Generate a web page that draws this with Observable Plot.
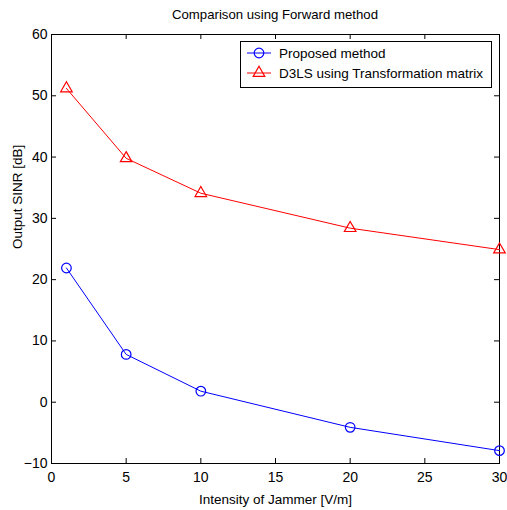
<!DOCTYPE html>
<html><head><meta charset="utf-8">
<script src="https://cdn.jsdelivr.net/npm/d3@7"></script>
<script src="https://cdn.jsdelivr.net/npm/@observablehq/plot@0.6"></script>
<style>
body{margin:0;background:#fff;}
#wrap{position:relative;width:507px;height:510px;font-family:"Liberation Sans",Arial,sans-serif;color:#000;}
#title{position:absolute;top:7px;left:51px;width:448px;text-align:center;font-size:13.2px;line-height:16px;}
#chart{position:absolute;top:27px;left:0;}
#legend{position:absolute;left:240px;top:41px;}
</style></head>
<body><div id="wrap"><div id="title"></div><div id="chart"></div><div id="legend"></div></div>
<script>
const titleText = "Comparison using Forward method";
const xLabel = "Intensity of Jammer [V/m]";
const yLabel = "Output SINR [dB]";
const seriesNames = ["Proposed method", "D3LS using Transformation matrix"];
const seriesColors = ["#0000ff", "#ff0000"];
const jammer = [1, 5, 10, 20, 30];
const proposed = [21.9, 7.8, 1.8, -4.1, -7.9];
const d3ls = [51.2, 39.8, 34.1, 28.4, 24.9];
const xTicks = [0, 5, 10, 15, 20, 25, 30];
const yTicks = [-10, 0, 10, 20, 30, 40, 50, 60];

document.getElementById("title").textContent = titleText;

const W = 507, H = 483, mT = 7, mB = 47, mL = 51, mR = 8;
const pw = W - mL - mR, ph = H - mT - mB, tk = 5;
const dProp = jammer.map((x, i) => ({x, y: proposed[i]}));
const dD3 = jammer.map((x, i) => ({x, y: d3ls[i]}));

const chart = Plot.plot({
  width: W, height: H, marginTop: mT, marginBottom: mB, marginLeft: mL, marginRight: mR,
  style: {fontFamily: "Liberation Sans, Arial, sans-serif", fontSize: "14px", color: "#000", background: "#fff", overflow: "visible"},
  x: {domain: [0, 30]},
  y: {domain: [-10, 60]},
  marks: [
    Plot.frame({stroke: "#000"}),
    Plot.tickX(xTicks, {x: d => d, insetTop: ph - tk, stroke: "#000"}),
    Plot.tickX(xTicks, {x: d => d, insetBottom: ph - tk, stroke: "#000"}),
    Plot.tickY(yTicks, {y: d => d, insetRight: pw - tk, stroke: "#000"}),
    Plot.tickY(yTicks, {y: d => d, insetLeft: pw - tk, stroke: "#000"}),
    Plot.axisX({ticks: xTicks, tickSize: 0, tickPadding: 9, tickFormat: d3.format("d"), fontSize: 14, label: null}),
    Plot.axisY({ticks: yTicks, tickSize: 0, tickPadding: 4, tickFormat: d3.format("d"), fontSize: 14, label: null}),
    Plot.text([xLabel], {text: d => d, frameAnchor: "bottom", dy: 36, fontSize: 13.5, lineAnchor: "middle"}),
    Plot.text([yLabel], {text: d => d, frameAnchor: "left", dx: -34, rotate: -90, fontSize: 13.5, lineAnchor: "middle"}),
    Plot.line(dProp, {x: "x", y: "y", stroke: seriesColors[0], strokeWidth: 1}),
    Plot.dot(dProp, {x: "x", y: "y", stroke: seriesColors[0], r: 4.8, strokeWidth: 1.2}),
    Plot.line(dD3, {x: "x", y: "y", stroke: seriesColors[1], strokeWidth: 1}),
    Plot.dot(dD3, {x: "x", y: "y", stroke: seriesColors[1], symbol: "triangle", r: 4.3, strokeWidth: 1.2})
  ]
});
document.getElementById("chart").appendChild(chart);

// legend
const lg = d3.select("#legend").append("svg").attr("width", 253).attr("height", 48)
  .style("font-family", "Liberation Sans, Arial, sans-serif").style("font-size", "13.5px");
lg.append("rect").attr("x", 0.5).attr("y", 0.5).attr("width", 251).attr("height", 46).attr("fill", "#fff").attr("stroke", "#000");
const symbols = [d3.symbolCircle, d3.symbolTriangle];
const sizes = [Math.PI * 4.8 * 4.8, Math.PI * 4.3 * 4.3];
seriesNames.forEach((name, i) => {
  const cy = 12 + i * 20;
  const g = lg.append("g");
  g.append("line").attr("x1", 7).attr("x2", 31).attr("y1", cy).attr("y2", cy).attr("stroke", seriesColors[i]);
  g.append("path").attr("d", d3.symbol(symbols[i], sizes[i])()).attr("transform", `translate(19,${cy})`)
    .attr("fill", "none").attr("stroke", seriesColors[i]).attr("stroke-width", 1.2);
  g.append("text").attr("x", 39).attr("y", cy).attr("dy", "0.35em").text(name);
});
</script>
</body></html>
